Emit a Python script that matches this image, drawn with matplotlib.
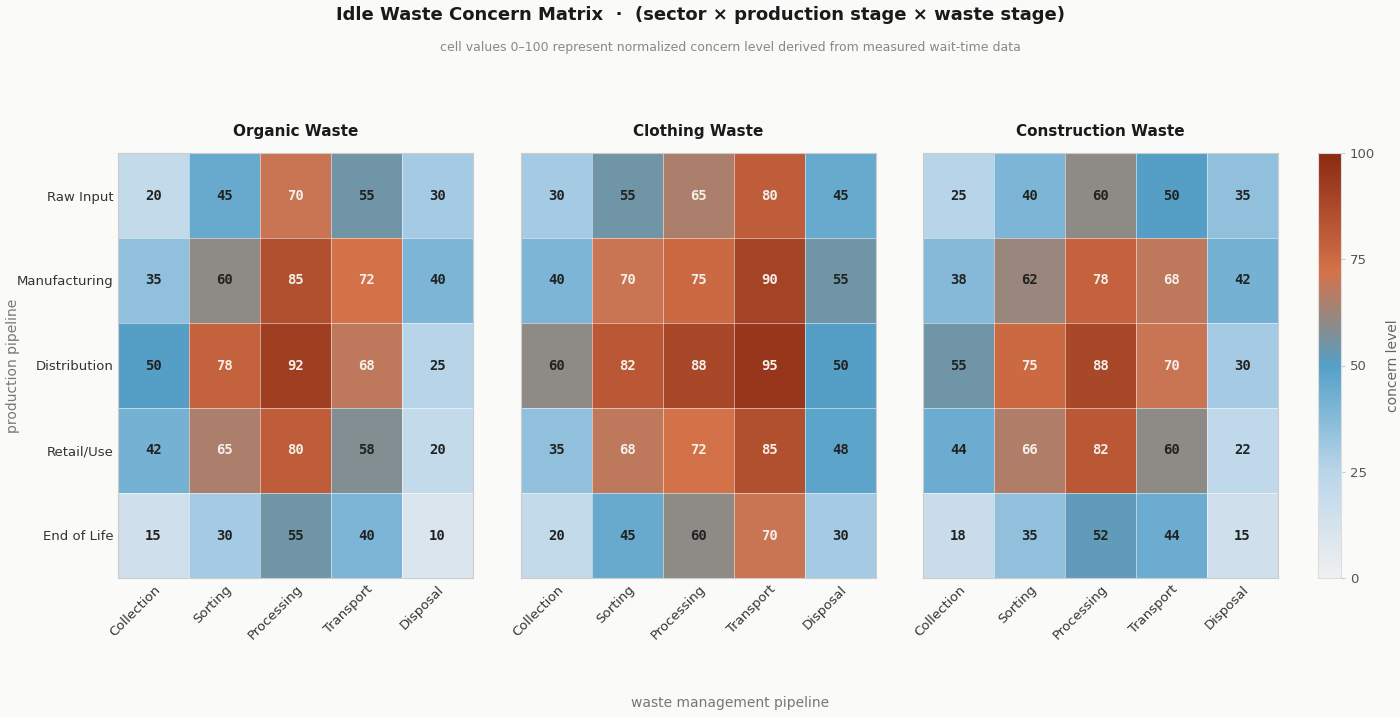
import matplotlib
matplotlib.use("Agg")
import matplotlib.pyplot as plt
import numpy as np
from matplotlib.colors import LinearSegmentedColormap

rows = ["Raw Input", "Manufacturing", "Distribution", "Retail/Use", "End of Life"]
cols = ["Collection", "Sorting", "Processing", "Transport", "Disposal"]
sectors = ["Organic Waste", "Clothing Waste", "Construction Waste"]
organic = [[20, 45, 70, 55, 30], [35, 60, 85, 72, 40], [50, 78, 92, 68, 25], [42, 65, 80, 58, 20], [15, 30, 55, 40, 10]]
clothing = [[30, 55, 65, 80, 45], [40, 70, 75, 90, 55], [60, 82, 88, 95, 50], [35, 68, 72, 85, 48], [20, 45, 60, 70, 30]]
construction = [[25, 40, 60, 50, 35], [38, 62, 78, 68, 42], [55, 75, 88, 70, 30], [44, 66, 82, 60, 22], [18, 35, 52, 44, 15]]
datasets = [organic, clothing, construction]

cmap = LinearSegmentedColormap.from_list("c", [(0, "#f0f0f0"), (0.25, "#b9d5ea"), (0.5, "#54a0c8"),
                                              (0.6, "#8e8a86"), (0.72, "#d4724a"), (1.0, "#8b2a12")])
bg = "#fafaf8"
fig = plt.figure(figsize=(14, 7.17), dpi=100, facecolor=bg)
W, H = 1400, 717
lefts = [118, 521, 923]
for k, (name, d) in enumerate(zip(sectors, datasets)):
    ax = fig.add_axes([lefts[k] / W, 1 - 578 / H, 355 / W, 425 / H])
    a = np.array(d)
    im = ax.imshow(a, cmap=cmap, vmin=0, vmax=100, aspect="auto")
    for i in range(5):
        for j in range(5):
            v = a[i, j]
            ax.text(j, i, str(v), ha="center", va="center", family="DejaVu Sans Mono",
                    fontweight="bold", fontsize=10, color="#f5f0ea" if v >= 64 else "#222222")
    ax.set_xticks(np.arange(5) + 0.5, minor=True)
    ax.set_yticks(np.arange(5) + 0.5, minor=True)
    ax.grid(which="minor", color="white", lw=0.6, alpha=0.6)
    ax.tick_params(which="both", length=0)
    ax.set_xticks(range(5))
    ax.set_xticklabels(cols, rotation=45, ha="right", rotation_mode="anchor", fontsize=9.5, color="#333333")
    ax.set_yticks(range(5))
    if k == 0:
        ax.set_yticklabels(rows, fontsize=9.5, color="#333333")
    else:
        ax.set_yticklabels([])
    for s in ax.spines.values():
        s.set_color("#cccccc")
    ax.set_title(name, fontsize=11, fontweight="bold", color="#1a1a1a", pad=12)

cax = fig.add_axes([1318 / W, 1 - 578 / H, 23 / W, 425 / H])
cb = fig.colorbar(im, cax=cax, ticks=[0, 25, 50, 75, 100])
cb.outline.set_edgecolor("#dddddd")
cb.ax.tick_params(labelsize=9.5, colors="#555555", length=3, color="#cccccc")
cb.set_label("concern level", color="#666666", fontsize=10, labelpad=8)

fig.text(0.5, 1 - 15 / H, "Idle Waste Concern Matrix  ·  (sector × production stage × waste stage)",
         ha="center", va="center", fontsize=13, fontweight="bold", color="#1a1a1a")
fig.text(0.5216, 1 - 48 / H, "cell values 0–100 represent normalized concern level derived from measured wait-time data",
         ha="center", va="center", fontsize=9, color="#888888")
fig.text(0.5216, 1 - 703 / H, "waste management pipeline", ha="center", va="center", fontsize=10, color="#777777")
fig.text(13 / W, 1 - 366 / H, "production pipeline", ha="center", va="center", rotation=90, fontsize=10, color="#777777")
fig.savefig("out.png", dpi=100, facecolor=bg)
